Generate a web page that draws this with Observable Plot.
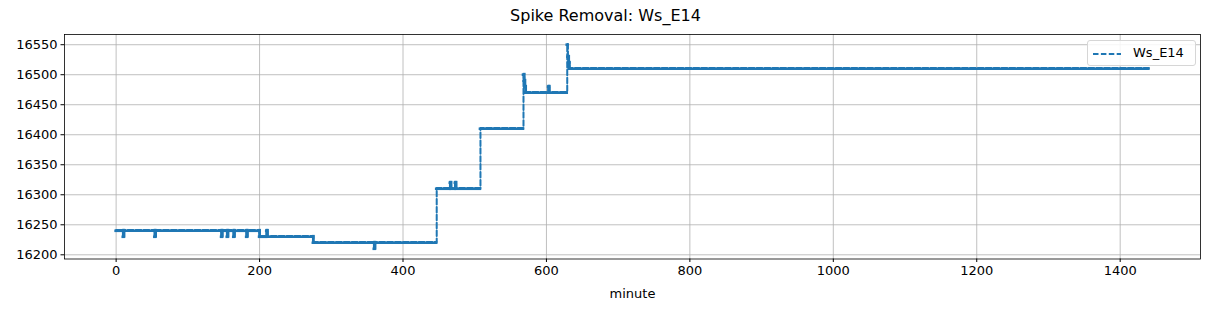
<!DOCTYPE html>
<html>
<head>
<meta charset="utf-8">
<script src="https://cdn.jsdelivr.net/npm/d3@7"></script>
<script src="https://cdn.jsdelivr.net/npm/@observablehq/plot@0.6"></script>
<style>
  html, body { margin: 0; padding: 0; background: #fff; }
  #wrap { position: relative; width: 1211px; height: 311px; font-family: "DejaVu Sans", sans-serif; }
  #title { position: absolute; left: 0; width: 1211px; top: 6px; text-align: center; font-size: 16px; color: #000; }
  #legend { position: absolute; left: 1087px; top: 40px; width: 109px; height: 26px; border: 1px solid #d6d6d6; border-radius: 3px; background: rgba(255,255,255,0.85); box-sizing: border-box; }
  #legend svg { position: absolute; left: 0; top: 0; }
  #legend span { position: absolute; left: 45px; top: 4px; font-size: 13px; color: #000; }
  svg.plot { position: absolute; left: 0; top: 0; }
</style>
</head>
<body>
<div id="wrap">
  <div id="title">Spike Removal: Ws_E14</div>
</div>
<script>
// Step-series breakpoints (value holds from this minute until the next breakpoint)
const minute = [0, 10, 11, 54, 55, 147, 148, 155, 156, 164, 165, 182, 183, 200, 210, 211, 275, 360, 361, 447, 466, 467, 473, 474, 508, 568, 569, 570, 571, 603, 604, 629, 630, 631, 632, 1440];
const value  = [16240, 16230, 16240, 16230, 16240, 16230, 16240, 16230, 16240, 16230, 16240, 16230, 16240, 16230, 16240, 16230, 16220, 16210, 16220, 16310, 16320, 16310, 16320, 16310, 16410, 16500, 16490, 16480, 16470, 16480, 16470, 16550, 16530, 16520, 16510, 16510];
const seriesName = "Ws_E14";
const xTicks = [0, 200, 400, 600, 800, 1000, 1200, 1400];
const yTicks = [16200, 16250, 16300, 16350, 16400, 16450, 16500, 16550];
const titleText = "Spike Removal: Ws_E14";
const xLabel = "minute";

const C = "#1f77b4";
const pts = minute.map((m, i) => ({minute: m, value: value[i]}));
const segs = [];
for (let i = 0; i < pts.length - 1; i++) segs.push({x1: pts[i].minute, x2: pts[i + 1].minute, y: pts[i].value});
const smallJumps = [];
for (let i = 1; i < pts.length; i++) {
  const d = Math.abs(pts[i].value - pts[i - 1].value);
  if (d > 0 && d <= 10) smallJumps.push({x: pts[i].minute, y1: pts[i - 1].value, y2: pts[i].value});
}

const chart = Plot.plot({
  width: 1211,
  height: 311,
  marginLeft: 64,
  marginRight: 11,
  marginTop: 34,
  marginBottom: 52.5,
  style: {fontFamily: "DejaVu Sans, sans-serif", fontSize: "13px", color: "#000", background: "transparent", overflow: "visible"},
  x: {domain: [-72, 1512], label: null},
  y: {domain: [16193, 16567], label: null},
  marks: [
    Plot.gridX(xTicks, {stroke: "#b0b0b0", strokeOpacity: 1, strokeWidth: 0.8}),
    Plot.gridY(yTicks, {stroke: "#b0b0b0", strokeOpacity: 1, strokeWidth: 0.8}),
    Plot.ruleY(segs, {x1: "x1", x2: "x2", y: "y", stroke: C, strokeWidth: 2.6, strokeLinecap: "square"}),
    Plot.ruleX(smallJumps, {x: "x", y1: "y1", y2: "y2", stroke: C, strokeWidth: 2.8, strokeLinecap: "square"}),
    Plot.line(pts, {x: "minute", y: "value", curve: "step-after", stroke: C, strokeWidth: 2, strokeDasharray: "5.5,2.4", dy: -0.8}),
    Plot.frame({stroke: "#000", strokeWidth: 0.8}),
    Plot.axisX(xTicks, {tickSize: 3.5, tickPadding: 3.5, tickFormat: d => String(d), label: null, fontSize: 13}),
    Plot.axisY(yTicks, {tickSize: 3.5, tickPadding: 3.5, tickFormat: d => String(d), label: null, fontSize: 13}),
    Plot.text([xLabel], {frameAnchor: "bottom", dy: 38.5, fontSize: 13, fill: "#000"})
  ]
});
chart.classList.add("plot");
document.getElementById("wrap").appendChild(chart);

const legend = document.createElement("div");
legend.id = "legend";
legend.innerHTML = `<svg width="109" height="26"><line x1="5" x2="33" y1="13" y2="13" stroke="${C}" stroke-width="1.8" stroke-dasharray="5.5,2.4"/></svg><span>${seriesName}</span>`;
document.getElementById("wrap").appendChild(legend);
document.getElementById("title").textContent = titleText;
</script>
</body>
</html>
